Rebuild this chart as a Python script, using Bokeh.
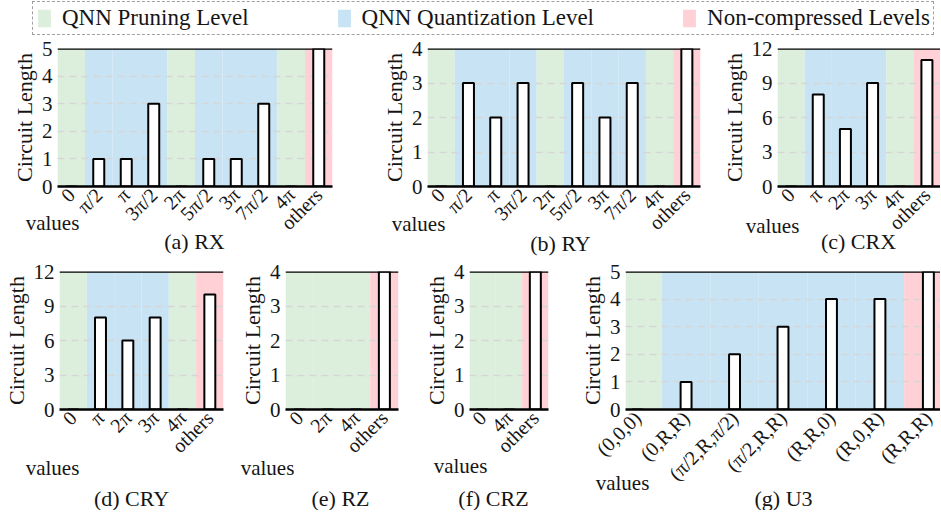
import math
from bokeh.plotting import figure
from bokeh.layouts import column, row
from bokeh.models import (FactorRange, Range1d, Legend, LegendItem, Label,
                          FixedTicker, Span)
from bokeh.embed import file_html
from bokeh.resources import INLINE

# ---------------- data ----------------
rx_cats = ["0", "π/2", "π", "3π/2", "2π", "5π/2", "3π", "7π/2", "4π", "others"]
rx_vals = [0, 1, 1, 3, 0, 1, 1, 3, 0, 5]
rx_levels = ["P", "Q", "Q", "Q", "P", "Q", "Q", "Q", "P", "N"]

ry_cats = ["0", "π/2", "π", "3π/2", "2π", "5π/2", "3π", "7π/2", "4π", "others"]
ry_vals = [0, 3, 2, 3, 0, 3, 2, 3, 0, 4]
ry_levels = ["P", "Q", "Q", "Q", "P", "Q", "Q", "Q", "P", "N"]

crx_cats = ["0", "π", "2π", "3π", "4π", "others"]
crx_vals = [0, 8, 5, 9, 0, 11]
crx_levels = ["P", "Q", "Q", "Q", "P", "N"]

cry_cats = ["0", "π", "2π", "3π", "4π", "others"]
cry_vals = [0, 8, 6, 8, 0, 10]
cry_levels = ["P", "Q", "Q", "Q", "P", "N"]

rz_cats = ["0", "2π", "4π", "others"]
rz_vals = [0, 0, 0, 4]
rz_levels = ["P", "P", "P", "N"]

crz_cats = ["0", "4π", "others"]
crz_vals = [0, 0, 4]
crz_levels = ["P", "P", "N"]

u3_cats = ["(0,0,0)", "(0,R,R)", "(π/2,R,π/2)", "(π/2,R,R)", "(R,R,0)", "(R,0,R)", "(R,R,R)"]
u3_vals = [0, 1, 2, 3, 4, 4, 5]
u3_levels = ["P", "Q", "Q", "Q", "Q", "Q", "N"]

ticks_5 = [0, 1, 2, 3, 4, 5]
ticks_4 = [0, 1, 2, 3, 4]
ticks_12 = [0, 3, 6, 9, 12]

captions = ["(a) RX", "(b) RY", "(c) CRX", "(d) CRY", "(e) RZ", "(f) CRZ", "(g) U3"]
x_title = "values"

legend_labels = ["QNN Pruning Level", "QNN Quantization Level", "Non-compressed Levels"]
legend_levels = ["P", "Q", "N"]

# ---------------- style ----------------
FONT = "Liberation Serif"
TXT = "#151515"
level_colors = {"P": "#dcefdc", "Q": "#c7e3f4", "N": "#ffd0d5"}
BAR_PX = 11
PAGE_W, PAGE_H = 940, 510


def panel(cats, vals, levels, ticks, fig_w, fig_h, left, right, top, bottom,
          pad=0.0):
    frame_w = fig_w - left - right
    n = len(cats)
    catw = frame_w / (n + 2 * pad)
    ymax = ticks[-1]
    xr = FactorRange(*cats, range_padding=pad, range_padding_units="absolute")
    p = figure(width=fig_w, height=fig_h, x_range=xr,
               y_range=Range1d(0, ymax), output_backend="svg", toolbar_location=None,
               min_border_left=left, min_border_right=right,
               min_border_top=top, min_border_bottom=bottom)
    p.outline_line_color = None
    p.background_fill_color = "white"

    band_cols = [level_colors[l] for l in levels]
    p.vbar(x=cats, top=ymax, bottom=0, width=1.0, fill_color=band_cols,
           line_color=None, level="image")

    p.vbar(x=cats, top=vals, width=BAR_PX / catw, fill_color="white",
           line_color="black", line_width=2)

    p.xgrid.grid_line_color = None
    p.ygrid.grid_line_color = "#d6d6d6"
    p.ygrid.grid_line_dash = "7 5"
    p.ygrid.grid_line_width = 1.5
    p.ygrid.ticker = FixedTicker(ticks=ticks)

    p.yaxis.ticker = FixedTicker(ticks=ticks)
    p.yaxis.axis_line_color = None
    p.yaxis.major_tick_line_color = None
    p.yaxis.minor_tick_line_color = None
    p.yaxis.major_tick_out = 0
    p.yaxis.minor_tick_out = 0
    p.yaxis.major_label_text_font = FONT
    p.yaxis.major_label_text_font_size = "21px"
    p.yaxis.major_label_text_color = TXT
    p.yaxis.major_label_standoff = 5
    p.yaxis.axis_label = "Circuit Length"
    p.yaxis.axis_label_text_font = FONT
    p.yaxis.axis_label_text_font_size = "22px"
    p.yaxis.axis_label_text_font_style = "normal"
    p.yaxis.axis_label_text_color = TXT
    p.yaxis.axis_label_standoff = 2

    p.xaxis.axis_line_color = "black"
    p.xaxis.axis_line_width = 2.5
    p.xaxis.major_tick_line_color = None
    p.xaxis.minor_tick_line_color = None
    p.xaxis.major_tick_out = 0
    p.xaxis.major_label_orientation = math.pi / 4
    p.xaxis.major_label_text_font = FONT
    p.xaxis.major_label_text_font_size = "20px"
    p.xaxis.major_label_text_color = TXT
    p.xaxis.major_label_standoff = 5

    p.add_layout(Span(location=ymax, dimension="width", line_color="black",
                      line_width=2.5))
    return p


# ---------------- legend strip ----------------
lp = figure(width=PAGE_W, height=36, output_backend="svg", toolbar_location=None,
            x_range=FactorRange(*legend_labels), y_range=Range1d(0, 1),
            x_axis_type=None, y_axis_type=None, min_border=0)
lp.grid.visible = False
lp.outline_line_color = None
items = []
for name, lvl in zip(legend_labels, legend_levels):
    r = lp.vbar(x=[name], top=[0], width=0.001, fill_color=level_colors[lvl],
                line_color=None)
    items.append(LegendItem(label=name, renderers=[r]))
leg = Legend(items=items, orientation="horizontal", location=(32, 1),
             glyph_width=16, glyph_height=22, label_standoff=10, spacing=87,
             padding=3, margin=0, label_text_font=FONT, label_text_font_size="23px",
             label_text_color=TXT, label_height=24,
             border_line_color="#444444", border_line_dash="dotted",
             border_line_width=1.5, background_fill_alpha=1.0)
lp.add_layout(leg)

# ---------------- panels ----------------
H1, H2 = 223, 251
pa = panel(rx_cats, rx_vals, rx_levels, ticks_5, 372, H1, 57, 40, 12, 73)
pb = panel(ry_cats, ry_vals, ry_levels, ticks_4, 344, H1, 55, 16, 12, 73)
pc = panel(crx_cats, crx_vals, crx_levels, ticks_12, 224, H1, 61, 0, 12, 73)

pd = panel(cry_cats, cry_vals, cry_levels, ticks_12, 236, H2, 58, 13, 12, 101)
pe = panel(rz_cats, rz_vals, rz_levels, ticks_4, 182, H2, 49, 20, 12, 101)
pf = panel(crz_cats, crz_vals, crz_levels, ticks_4, 158, H2, 51, 28, 12, 101)
pg = panel(u3_cats, u3_vals, u3_levels, ticks_5, 364, H2, 47, 0, 12, 101, pad=-0.25)

# ---------------- transparent text overlay (x-titles and captions) ----------------
ov = figure(width=PAGE_W, height=PAGE_H, output_backend="svg", toolbar_location=None,
            x_range=Range1d(0, PAGE_W), y_range=Range1d(PAGE_H, 0),
            x_axis_type=None, y_axis_type=None, min_border=0,
            margin=(-PAGE_H, 0, 0, 0))
ov.grid.visible = False
ov.outline_line_color = None
ov.background_fill_color = None
ov.border_fill_color = None

values_pos = [(52, 222), (418, 223), (772, 225), (52, 467), (267, 467), (460, 465), (622, 482)]
caption_pos = [(194, 241), (560, 243), (858, 241), (131, 498), (340, 498), (493, 498), (783, 498)]
for (vx, vy), (cx, cy), cap in zip(values_pos, caption_pos, captions):
    ov.add_layout(Label(x=vx, y=vy, text=x_title, text_font=FONT, text_font_size="21px",
                        text_color=TXT, text_align="center", text_baseline="middle"))
    ov.add_layout(Label(x=cx, y=cy, text=cap, text_font=FONT, text_font_size="22px",
                        text_color=TXT, text_align="center", text_baseline="middle"))

layout = column(lp, row(pa, pb, pc), row(pd, pe, pf, pg), ov)

open("out.html", "w").write(file_html(layout, INLINE))
